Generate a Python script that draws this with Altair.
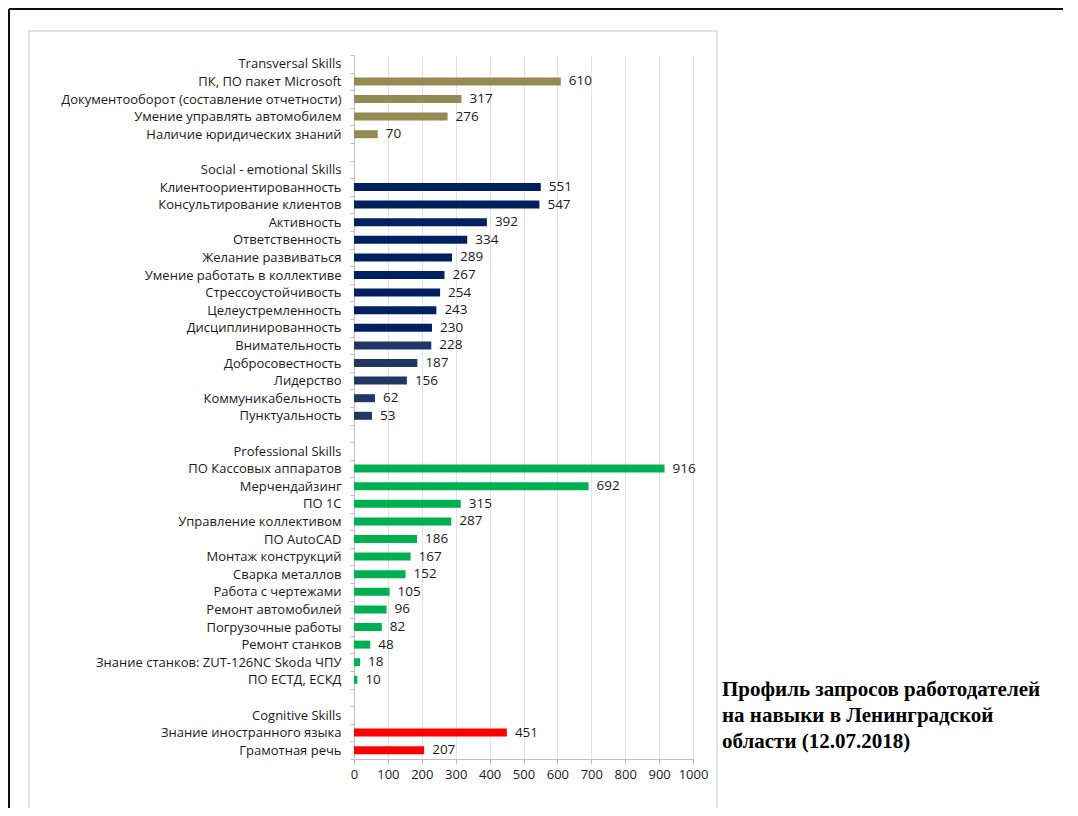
import altair as alt
import pandas as pd

# ---------------- data ----------------
transversal_header = "Transversal Skills"
transversal_skills = ["ПК, ПО пакет Microsoft", "Документооборот (составление отчетности)",
                      "Умение управлять автомобилем", "Наличие юридических знаний"]
transversal_values = [610, 317, 276, 70]

social_header = "Social - emotional Skills"
social_skills = ["Клиентоориентированность", "Консультирование клиентов", "Активность",
                 "Ответственность", "Желание развиваться", "Умение работать в коллективе",
                 "Стрессоустойчивость", "Целеустремленность", "Дисциплинированность",
                 "Внимательность", "Добросовестность", "Лидерство", "Коммуникабельность",
                 "Пунктуальность"]
social_values = [551, 547, 392, 334, 289, 267, 254, 243, 230, 228, 187, 156, 62, 53]
social_shades = ["Social A"] * 9 + ["Social B"] * 5

professional_header = "Professional Skills"
professional_skills = ["ПО Кассовых аппаратов", "Мерчендайзинг", "ПО 1С", "Управление коллективом",
                       "ПО AutoCAD", "Монтаж конструкций", "Сварка металлов", "Работа с чертежами",
                       "Ремонт автомобилей", "Погрузочные работы", "Ремонт  станков",
                       "Знание станков: ZUT-126NC Skoda ЧПУ", "ПО ЕСТД, ЕСКД"]
professional_values = [916, 692, 315, 287, 186, 167, 152, 105, 96, 82, 48, 18, 10]

cognitive_header = "Cognitive Skills"
cognitive_skills = ["Знание иностранного языка", "Грамотная речь"]
cognitive_values = [451, 207]

shade_names = ["Transversal", "Social A", "Social B", "Professional", "Cognitive"]
shade_colors = ["#948A54", "#002060", "#1F3864", "#00B050", "#FF0000"]

title_lines = ["Профиль запросов работодателей", "на навыки в Ленинградской", "области (12.07.2018)"]
x_ticks = list(range(0, 1001, 100))

# ---------------- table ----------------
rows = []
def header(h):
    rows.append({"skill": h, "value": None, "shade": None})

header(transversal_header)
for s, v in zip(transversal_skills, transversal_values):
    rows.append({"skill": s, "value": v, "shade": "Transversal"})
header(" ")
header(social_header)
for s, v, c in zip(social_skills, social_values, social_shades):
    rows.append({"skill": s, "value": v, "shade": c})
header("  ")
header(professional_header)
for s, v in zip(professional_skills, professional_values):
    rows.append({"skill": s, "value": v, "shade": "Professional"})
header("   ")
header(cognitive_header)
for s, v in zip(cognitive_skills, cognitive_values):
    rows.append({"skill": s, "value": v, "shade": "Cognitive"})

df = pd.DataFrame(rows)
categories = list(df["skill"])

LABEL_FONT = "Open Sans"
GRID = "#DCE3EE"
AXIS = "#BFBFBF"

y_enc = alt.Y("skill:N", sort=categories,
              scale=alt.Scale(domain=categories, paddingInner=0, paddingOuter=0),
              axis=alt.Axis(title=None, tickBand="extent", tickSize=4, tickColor=AXIS,
                            domainColor=AXIS, labelFont=LABEL_FONT, labelFontSize=13,
                            labelColor="#1a1a1a", labelPadding=9, labelLimit=400, grid=False))
x_enc = alt.X("value:Q", scale=alt.Scale(domain=[0, 1000], nice=False),
              axis=alt.Axis(title=None, values=x_ticks, format="d", grid=True, gridColor=GRID,
                            tickColor=AXIS, tickSize=5, domainColor=AXIS,
                            labelFont=LABEL_FONT, labelFontSize=13, labelColor="#1a1a1a",
                            labelPadding=4, labelFlush=False))

base = alt.Chart(df).transform_filter("datum.value != null")

bars = base.mark_bar(size=8).encode(
    y=y_enc, x=x_enc,
    color=alt.Color("shade:N", scale=alt.Scale(domain=shade_names, range=shade_colors), legend=None),
)
labels = base.mark_text(align="left", baseline="middle", dx=8, font=LABEL_FONT,
                        fontSize=13.5, color="#1a1a1a").encode(
    y=y_enc, x=x_enc, text=alt.Text("value:Q"))

one = alt.Data(values=[{"k": 1}])
inner_box = alt.Chart(one).mark_rect(fillOpacity=0, stroke="#D9D9D9", strokeWidth=1.5).encode(
    x=alt.value(-325), x2=alt.value(363), y=alt.value(-24), y2=alt.value(900))
frame_top = alt.Chart(one).mark_rule(color="#111111", strokeWidth=2).encode(
    x=alt.value(-345), x2=alt.value(720), y=alt.value(-46))
frame_left = alt.Chart(one).mark_rule(color="#111111", strokeWidth=2).encode(
    x=alt.value(-345), y=alt.value(-46), y2=alt.value(900))
title = alt.Chart(one).mark_text(text=title_lines, align="left", baseline="top",
                                 font="Liberation Serif", fontSize=21, fontWeight="bold",
                                 lineHeight=26, color="#000000").encode(
    x=alt.value(368), y=alt.value(624))

chart = alt.layer(inner_box, frame_top, frame_left, bars, labels, title).properties(
    width=339, height=704,
    autosize=alt.AutoSizeParams(type="none"),
    padding={"left": 346, "top": 47, "right": 370, "bottom": 49},
    background="white",
).configure_view(stroke=None)

chart.save("out.html", embed_options={"renderer": "svg", "actions": False})
